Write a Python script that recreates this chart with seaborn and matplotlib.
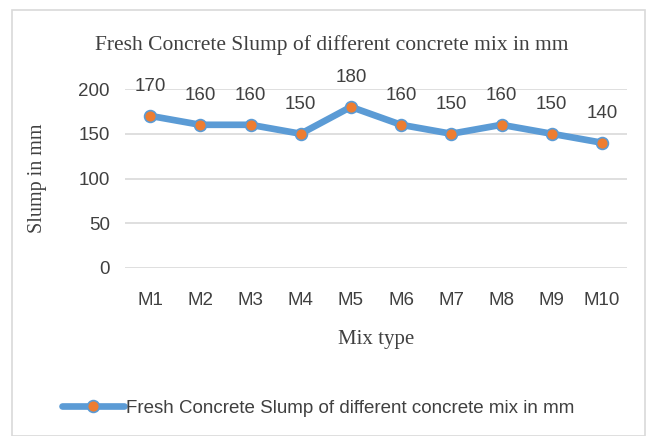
import matplotlib
matplotlib.use("Agg")
import matplotlib.pyplot as plt
import seaborn as sns
import pandas as pd
from matplotlib.patches import Rectangle

mixes = ["M1", "M2", "M3", "M4", "M5", "M6", "M7", "M8", "M9", "M10"]
slump = [170, 160, 160, 150, 180, 160, 150, 160, 150, 140]
series_name = "Fresh Concrete Slump of different concrete mix in mm"
title = "Fresh Concrete Slump of different concrete mix in mm"
y_ticks = [0, 50, 100, 150, 200]

sns.set_theme(style="white")
plt.rcParams['font.family'] = ['Liberation Sans', 'DejaVu Sans']

df = pd.DataFrame({"Mix": mixes, "Slump": slump})

fig = plt.figure(figsize=(6.53, 4.36), dpi=100)
ax = fig.add_axes([125/653, 1-268/436, (627-125)/653, (268-89)/436])

blue = "#5B9BD5"
orange = "#ED7D31"
sns.lineplot(data=df, x="Mix", y="Slump", ax=ax, color=blue, linewidth=4.8,
             marker="o", markersize=8.5, markerfacecolor=orange,
             markeredgecolor=blue, markeredgewidth=1.2, sort=False,
             label=series_name, zorder=3)

ax.set_xlim(-0.5, len(mixes)-0.5)
ax.set_ylim(0, 200)
ax.set_yticks(y_ticks)
ax.yaxis.grid(True, color="#D9D9D9", linewidth=1.2)
for s in ax.spines.values():
    s.set_visible(False)
ax.tick_params(axis="both", length=0, labelsize=13.5, colors="#404040")
ax.tick_params(axis="y", pad=11)
ax.tick_params(axis="x", pad=17)

for i, v in enumerate(slump):
    ax.annotate(str(v), (i, v), xytext=(0, 15), textcoords="offset points",
                ha="center", va="bottom", fontsize=13.5, color="#404040")

ax.set_xlabel("Mix type", family="Liberation Serif", fontsize=15, color="#404040")
ax.xaxis.set_label_coords(0.5, -0.345)
ax.set_ylabel("Slump in mm", family="Liberation Serif", fontsize=14.5, color="#404040")
ax.yaxis.set_label_coords(-0.155, 0.5)

fig.text(332/653, 1-45/436, title, family="Liberation Serif", fontsize=15.5,
         color="#404040", ha="center", va="center")

leg = ax.legend(loc="center", bbox_to_anchor=(318/653, 1-408/436),
                bbox_transform=fig.transFigure, frameon=False, fontsize=13.5,
                handlelength=3.3, handletextpad=0.1)
for t in leg.get_texts():
    t.set_color("#404040")

fig.patches.append(Rectangle((12/653, 0), (645-12)/653, 1-10/436, transform=fig.transFigure,
                             fill=False, edgecolor="#D9D9D9", linewidth=1.2))

fig.savefig("out.png", dpi=100)
